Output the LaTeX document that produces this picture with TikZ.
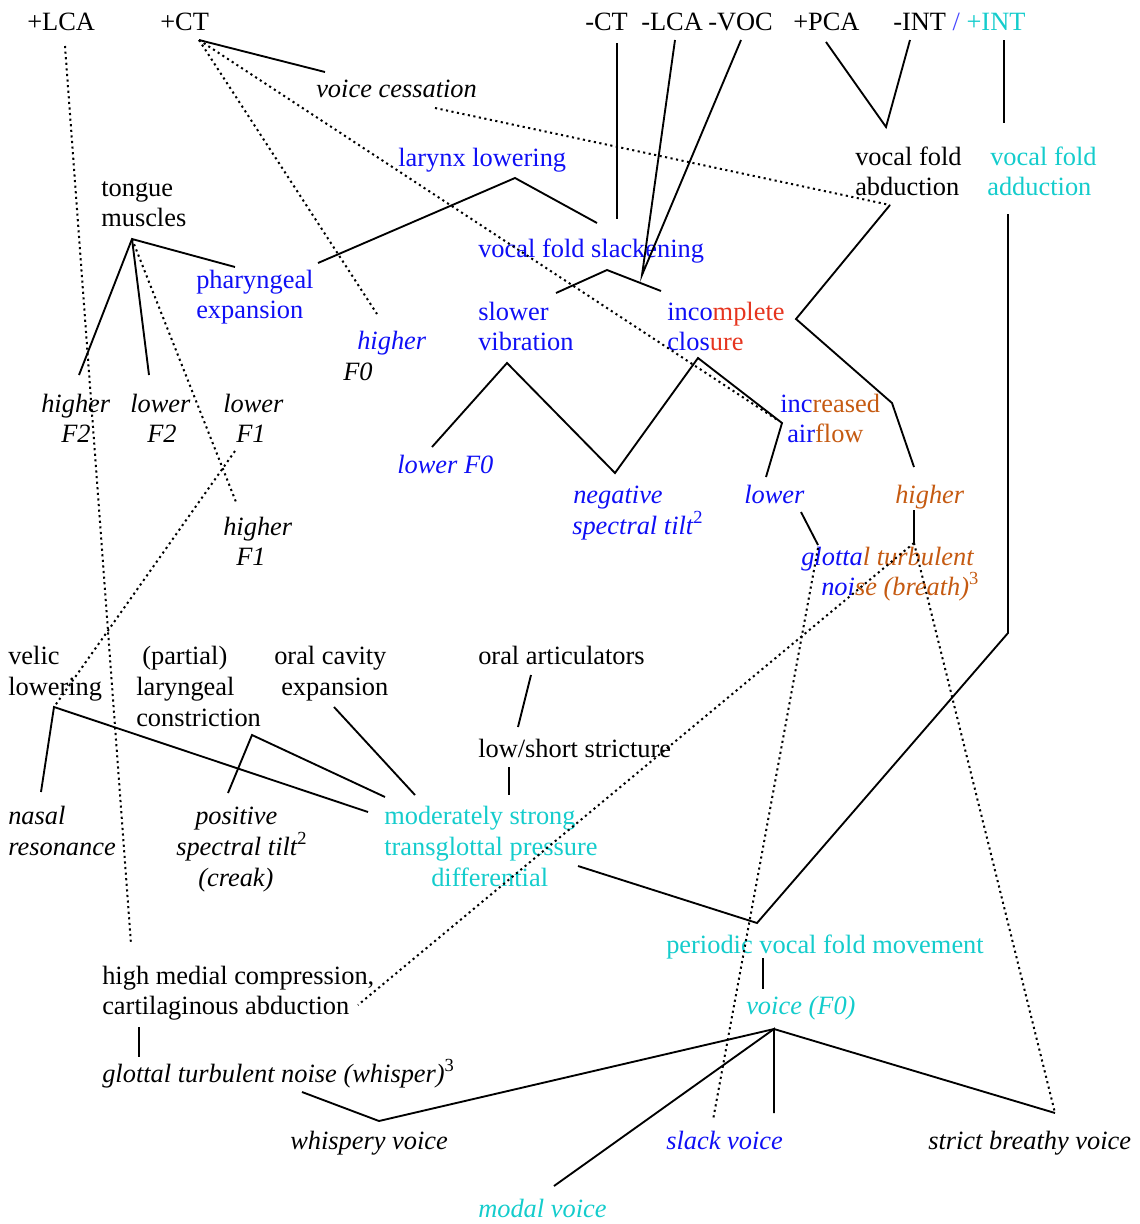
\documentclass[tikz,border=0pt]{standalone}
\usepackage{fontspec}
\setmainfont{Liberation Serif}
\definecolor{vblue}{RGB}{15,15,245}
\definecolor{vred}{RGB}{230,52,30}
\definecolor{vorange}{RGB}{197,90,17}
\definecolor{vcyan}{RGB}{20,204,204}
\definecolor{vslash}{RGB}{70,70,255}
\newcommand{\fnmark}[1]{{\upshape\textsuperscript{#1}}}
\begin{document}
\begin{tikzpicture}[x=0.75pt,y=-0.75pt,
  txt/.style={anchor=base west,inner sep=0pt,font=\fontsize{19.8}{22}\selectfont},
  itx/.style={txt,font=\fontsize{19.8}{22}\selectfont\itshape},
  link/.style={line width=1.4pt},
  dotlink/.style={line width=1.5pt,dash pattern=on 1.6pt off 2.6pt}]
\useasboundingbox (0,0) rectangle (1139,1224);

% top row: muscles

\node[txt] (lca) at (27,30) {+LCA};
\node[txt] (ct) at (160,30) {+CT};
\node[txt] (mct) at (585,30) {-CT};
\node[txt] (mlca) at (641,30) {-LCA};
\node[txt] (mvoc) at (708,30) {-VOC};
\node[txt] (pca) at (793,30) {+PCA};
\node[txt] (int) at (893,30) {-INT \textcolor{vslash}{/} \textcolor{vcyan}{+INT}};

% articulatory layer

\node[itx] (vcess) at (316,97) {voice cessation};
\node[txt,text=vblue] (larynx) at (398,166) {larynx lowering};
\node[txt] (tongue) at (101,196) {tongue};
\node[txt] (tongueb) at (101,226) {muscles};
\node[txt,text=vblue] (phar) at (196,288) {pharyngeal};
\node[txt,text=vblue] (pharb) at (196,318) {expansion};
\node[txt] (abd) at (855,165) {vocal fold};
\node[txt] (abdb) at (855,195) {abduction};
\node[txt,text=vcyan] (add) at (990,165) {vocal fold};
\node[txt,text=vcyan] (addb) at (987,195) {adduction};
\node[txt,text=vblue] (slack) at (478,257) {vocal fold slackening};
\node[txt,text=vblue] (slower) at (478,320) {slower};
\node[txt,text=vblue] (slowerb) at (478,350) {vibration};
\node[txt,text=vblue] (incl) at (667,320) {inco\textcolor{vred}{mplete}};
\node[txt,text=vblue] (inclb) at (667,350) {clos\textcolor{vred}{ure}};
\node[txt,text=vblue] (incair) at (780,412) {inc\textcolor{vorange}{reased}};
\node[txt,text=vblue] (incairb) at (787,442) {air\textcolor{vorange}{flow}};

% acoustic effects

\node[itx,text=vblue] (hif0) at (357,349) {higher};
\node[itx] (hif0b) at (343,380) {F0};
\node[itx] (hif2) at (41,412) {higher};
\node[itx] (hif2b) at (61,442) {F2};
\node[itx] (lof2) at (130,412) {lower};
\node[itx] (lof2b) at (147,442) {F2};
\node[itx] (lof1) at (223,412) {lower};
\node[itx] (lof1b) at (236,442) {F1};
\node[itx] (hif1) at (223,535) {higher};
\node[itx] (hif1b) at (236,565) {F1};
\node[itx,text=vblue] (lof0) at (397,473) {lower F0};
\node[itx,text=vblue] (neg) at (573,503) {negative};
\node[itx,text=vblue] (negb) at (572,534) {spectral tilt\fnmark{2}};
\node[itx,text=vblue] (lowair) at (744,503) {lower};
\node[itx,text=vorange] (highair) at (895,503) {higher};
\node[itx,text=vblue] (breath) at (801,565) {glotta\textcolor{vorange}{l turbulent}};
\node[itx,text=vblue] (breathb) at (821,595) {noi\textcolor{vorange}{se (breath)\fnmark{3}}};

% lower block

\node[txt] (velic) at (8,664) {velic};
\node[txt] (velicb) at (8,695) {lowering};
\node[txt] (laryn) at (142,664) {(partial)};
\node[txt] (larynb) at (136,695) {laryngeal};
\node[txt] (larync) at (136,726) {constriction};
\node[txt] (oralcav) at (274,664) {oral cavity};
\node[txt] (oralcavb) at (281,695) {expansion};
\node[txt] (oralart) at (478,664) {oral articulators};
\node[txt] (strict) at (478,757) {low/short stricture};
\node[itx] (nasal) at (8,824) {nasal};
\node[itx] (nasalb) at (8,855) {resonance};
\node[itx] (postilt) at (195,824) {positive};
\node[itx] (postiltb) at (176,855) {spectral tilt\fnmark{2}};
\node[itx] (postiltc) at (198,886) {(creak)};
\node[txt,text=vcyan] (press) at (384,824) {moderately strong};
\node[txt,text=vcyan] (pressb) at (384,855) {transglottal pressure};
\node[txt,text=vcyan] (pressc) at (431,886) {differential};
\node[txt,text=vcyan] (period) at (666,953) {periodic vocal fold movement};
\node[itx,text=vcyan] (voice) at (746,1014) {voice (F0)};
\node[txt] (medial) at (102,984) {high medial compression,};
\node[txt] (medialb) at (102,1014) {cartilaginous abduction};
\node[itx] (whisper) at (102,1082) {glottal turbulent noise (whisper)\fnmark{3}};

% phonation types

\node[itx] (whispery) at (290,1149) {whispery voice};
\node[itx,text=vblue] (slackv) at (666,1149) {slack voice};
\node[itx] (breathy) at (928,1149) {strict breathy voice};
\node[itx,text=vcyan] (modal) at (478,1217) {modal voice};

% connector points

\coordinate (lcaT) at (65,46);
\coordinate (lcaB) at (131,944);
\coordinate (ctT) at (199,40);
\coordinate (vcessL) at (325,72);
\coordinate (hif0T) at (377,314);
\coordinate (incairT) at (779,421);
\coordinate (vcessR) at (435,108);
\coordinate (abdB) at (890,205);
\coordinate (tongueB) at (132,239);
\coordinate (pharT) at (235,267);
\coordinate (hif2T) at (79,375);
\coordinate (lof2T) at (149,375);
\coordinate (hif1T) at (236,502);
\coordinate (larynxB) at (515,178);
\coordinate (pharR) at (318,263);
\coordinate (slackL) at (597,223);
\coordinate (mctB) at (617,43);
\coordinate (slackM) at (617,219);
\coordinate (mlcaB) at (675,40);
\coordinate (mvocB) at (741,40);
\coordinate (slackR) at (642,275);
\coordinate (pcaB) at (826,42);
\coordinate (abdT) at (886,127);
\coordinate (intB) at (910,40);
\coordinate (pintB) at (1004,40);
\coordinate (addT) at (1004,123);
\coordinate (slackB) at (607,270);
\coordinate (slowerT) at (556,293);
\coordinate (inclT) at (661,291);
\coordinate (slowerB) at (507,363);
\coordinate (lof0T) at (432,447);
\coordinate (negT) at (615,473);
\coordinate (inclB) at (698,358);
\coordinate (incairL) at (782,423);
\coordinate (lowairT) at (766,477);
\coordinate (abdK1) at (796,319);
\coordinate (abdK2) at (892,403);
\coordinate (highairT) at (914,467);
\coordinate (lowairB) at (801,512);
\coordinate (breathL) at (818,545);
\coordinate (highairB) at (914,510);
\coordinate (breathT) at (914,543);
\coordinate (breathD) at (818,548);
\coordinate (addB) at (1008,214);
\coordinate (addK) at (1008,633);
\coordinate (periodT) at (757,923);
\coordinate (pressR) at (578,866);
\coordinate (lof1B) at (235,451);
\coordinate (velicB) at (54,707);
\coordinate (nasalT) at (41,792);
\coordinate (pressL) at (368,812);
\coordinate (larynB) at (252,735);
\coordinate (postiltT) at (228,793);
\coordinate (pressT1) at (385,797);
\coordinate (oralcavB) at (334,707);
\coordinate (pressT2) at (415,795);
\coordinate (oralartB) at (531,675);
\coordinate (strictT) at (518,727);
\coordinate (strictB) at (509,767);
\coordinate (pressT3) at (509,795);
\coordinate (periodB) at (763,958);
\coordinate (voiceT) at (763,989);
\coordinate (voiceB) at (774,1029);
\coordinate (whisperyT) at (379,1121);
\coordinate (whisperB) at (302,1092);
\coordinate (modalT) at (554,1186);
\coordinate (slackvT) at (774,1113);
\coordinate (breathyT) at (1055,1113);
\coordinate (slackvD) at (713,1120);
\coordinate (medialR) at (358,1005);
\coordinate (medialB) at (139,1027);
\coordinate (whisperT) at (139,1057);

% solid links

\draw[link] (ctT) -- (vcessL);
\draw[link] (pharT) -- (tongueB) -- (hif2T);
\draw[link] (tongueB) -- (lof2T);
\draw[link] (pharR) -- (larynxB) -- (slackL);
\draw[link] (mctB) -- (slackM);
\draw[link] (mlcaB) -- (slackR) -- (mvocB);
\draw[link] (pcaB) -- (abdT) -- (intB);
\draw[link] (pintB) -- (addT);
\draw[link] (slowerT) -- (slackB) -- (inclT);
\draw[link] (lof0T) -- (slowerB) -- (negT) -- (inclB) -- (incairL) -- (lowairT);
\draw[link] (abdB) -- (abdK1) -- (abdK2) -- (highairT);
\draw[link] (lowairB) -- (breathL);
\draw[link] (highairB) -- (breathT);
\draw[link] (addB) -- (addK) -- (periodT) -- (pressR);
\draw[link] (nasalT) -- (velicB) -- (pressL);
\draw[link] (postiltT) -- (larynB) -- (pressT1);
\draw[link] (oralcavB) -- (pressT2);
\draw[link] (oralartB) -- (strictT);
\draw[link] (strictB) -- (pressT3);
\draw[link] (periodB) -- (voiceT);
\draw[link] (whisperB) -- (whisperyT) -- (voiceB) -- (breathyT);
\draw[link] (modalT) -- (voiceB) -- (slackvT);
\draw[link] (medialB) -- (whisperT);

% dotted links

\draw[dotlink] (lcaT) -- (lcaB);
\draw[dotlink] (ctT) -- (hif0T);
\draw[dotlink] (ctT) -- (incairT);
\draw[dotlink] (vcessR) -- (abdB);
\draw[dotlink] (tongueB) -- (hif1T);
\draw[dotlink] (lof1B) -- (velicB);
\draw[dotlink] (breathD) -- (slackvD);
\draw[dotlink] (breathT) -- (medialR);
\draw[dotlink] (breathT) -- (breathyT);

\end{tikzpicture}
\end{document}
